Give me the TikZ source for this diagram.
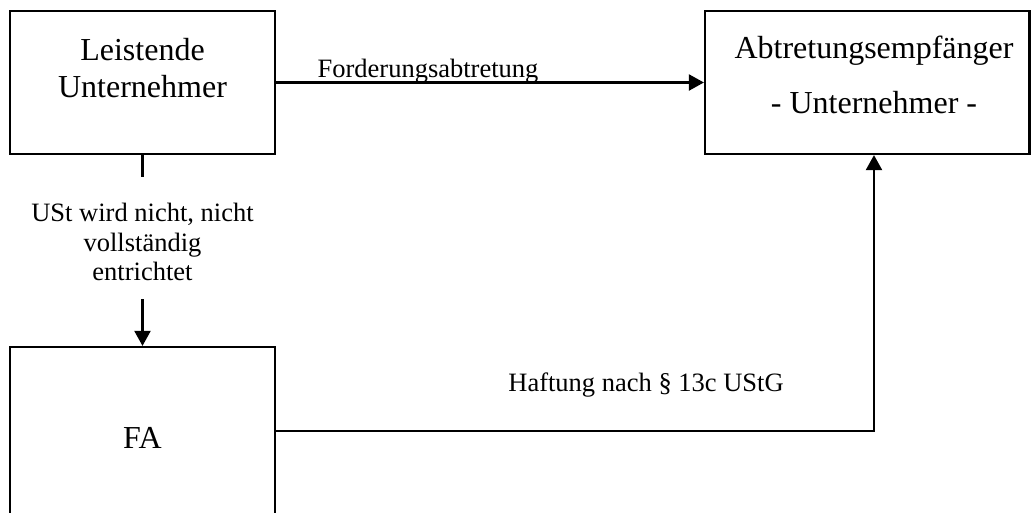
\documentclass[tikz,border=0pt]{standalone}
\usepackage{fontspec}
\setmainfont{Liberation Serif}
\usetikzlibrary{arrows.meta}
\tikzset{
  boxnode/.style={draw=black, line width=2.2pt, inner sep=0pt},
  bigtext/.style={font=\fontsize{32}{37}\selectfont, inner sep=0pt, align=center},
  smalltext/.style={font=\fontsize{26.5}{29.5}\selectfont, inner sep=0pt, align=center},
  conn/.style={line width=2.2pt, draw=black},
  arr/.style={conn, -{Triangle[length=15pt,width=16pt]}}
}
\begin{document}
\begin{tikzpicture}[x=1pt,y=-1pt]
\useasboundingbox (0,0) rectangle (1031,512);
% boxes
\node[boxnode, minimum width=265pt, minimum height=143pt] (b1) at (142.5,82.5) {};
\node[boxnode, minimum width=324.5pt, minimum height=143pt] (b2) at (867.25,82.5) {};
\node[boxnode, minimum width=265pt, minimum height=190pt] (fa) at (142.5,442) {};
% box texts
\node[bigtext, anchor=base] (t1a) at (142.5,60) {Leistende};
\node[bigtext, anchor=base] (t1b) at (142.5,97) {Unternehmer};
\node[bigtext, anchor=base] (t2a) at (874,58) {Abtretungsempfänger};
\node[bigtext, anchor=base] (t2b) at (874,113) {- Unternehmer -};
\node[bigtext, anchor=base] (tfa) at (142.5,448) {FA};
% connectors
\node[smalltext, anchor=base] (lf) at (428,77) {Forderungsabtretung};
\draw[arr] (b1.east) -- (b2.west);

\coordinate (u1) at (142.5,177);
\coordinate (u2) at (142.5,299);
\node[smalltext] (lu) at (142.5,242) {USt wird nicht, nicht\\vollständig\\entrichtet};
\draw[conn] (b1.south) -- (u1);
\draw[arr] (u2) -- (fa.north);

\coordinate (hy) at (0,431);
\coordinate (vx) at (874,0);
\node[smalltext, anchor=base] (lh) at (646,391) {Haftung nach § 13c UStG};
\draw[arr] (fa.east |- hy) -| (b2.south -| vx);
\end{tikzpicture}
\end{document}
